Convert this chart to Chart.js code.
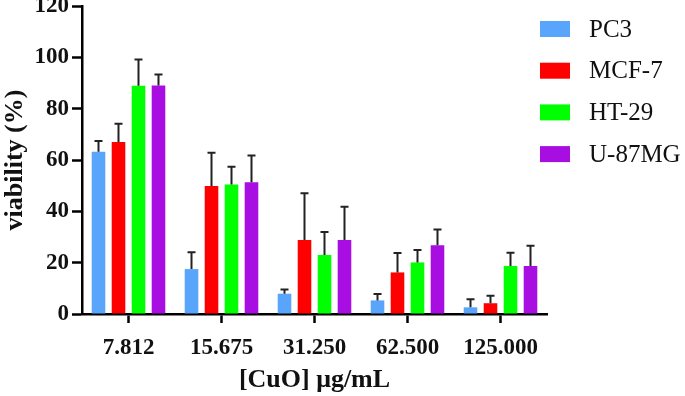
<!DOCTYPE html>
<html>
<head>
<meta charset="utf-8">
<script src="https://cdn.jsdelivr.net/npm/chart.js@4"></script>
<style>
html,body{margin:0;padding:0;background:#fff;}
#wrap{width:685px;height:396px;position:relative;}
</style>
</head>
<body>
<div id="wrap"><canvas id="c" width="685" height="396"></canvas></div>
<script>
const categories = ["7.812", "15.675", "31.250", "62.500", "125.000"];
const seriesNames = ["PC3", "MCF-7", "HT-29", "U-87MG"];
const pc3 = [63.2, 17.5, 7.9, 5.3, 2.6];
const mcf7 = [67.0, 49.9, 28.8, 16.2, 4.2];
const ht29 = [88.9, 50.5, 23.0, 20.1, 18.7];
const u87mg = [89.0, 51.3, 28.8, 26.8, 18.7];
const pc3Err = [4.2, 6.6, 1.6, 2.5, 3.1];
const mcf7Err = [7.1, 12.9, 18.2, 7.6, 2.9];
const ht29Err = [10.3, 6.9, 8.9, 4.8, 5.2];
const u87mgErr = [4.3, 10.5, 13.0, 6.1, 7.9];
const yTicks = [0, 20, 40, 60, 80, 100, 120];
const colors = ["#5AA5FC", "#FF0000", "#00FF00", "#A80DE2"];

const values = [pc3, mcf7, ht29, u87mg];
const errors = [pc3Err, mcf7Err, ht29Err, u87mgErr];

const errorBarPlugin = {
  id: 'errorBars',
  afterDatasetsDraw(chart) {
    const ctx = chart.ctx;
    const y = chart.scales.y;
    ctx.save();
    ctx.strokeStyle = '#222';
    ctx.lineWidth = 2;
    chart.data.datasets.forEach((ds, di) => {
      const meta = chart.getDatasetMeta(di);
      meta.data.forEach((bar, i) => {
        const v = ds.data[i];
        const e = ds.errors[i];
        const yTop = y.getPixelForValue(v + e);
        const yBase = y.getPixelForValue(v);
        ctx.beginPath();
        ctx.moveTo(bar.x, yBase);
        ctx.lineTo(bar.x, yTop);
        ctx.moveTo(bar.x - 4, yTop);
        ctx.lineTo(bar.x + 4, yTop);
        ctx.stroke();
      });
    });
    ctx.restore();
  }
};

const legendPlugin = {
  id: 'customLegend',
  afterDraw(chart) {
    const ctx = chart.ctx;
    ctx.save();
    ctx.font = '25px "Liberation Serif", "Times New Roman", serif';
    ctx.textBaseline = 'middle';
    ctx.textAlign = 'left';
    chart.data.datasets.forEach((ds, i) => {
      const cy = 29 + i * 41.7;
      ctx.fillStyle = ds.backgroundColor;
      ctx.fillRect(540, cy - 8, 30, 16);
      ctx.fillStyle = '#111';
      ctx.fillText(ds.label, 589, cy + 1);
    });
    ctx.restore();
  }
};

const datasets = seriesNames.map((name, i) => ({
  label: name,
  data: values[i],
  errors: errors[i],
  backgroundColor: colors[i],
  borderWidth: 0,
  barPercentage: 0.68,
  categoryPercentage: 0.86
}));

const tickFont = {family: '"Liberation Serif", "Times New Roman", serif', size: 23, weight: 'bold'};
const titleFont = {family: '"Liberation Serif", "Times New Roman", serif', size: 26, weight: 'bold'};

new Chart(document.getElementById('c'), {
  type: 'bar',
  data: {labels: categories, datasets},
  options: {
    responsive: false,
    animation: false,
    devicePixelRatio: 1,
    layout: {padding: {top: 6, right: 138, left: 0, bottom: 0}},
    plugins: {legend: {display: false}, tooltip: {enabled: false}},
    scales: {
      x: {
        offset: true,
        grid: {display: true, drawOnChartArea: false, drawTicks: true, tickLength: 9, tickWidth: 2.5, tickColor: '#000', offset: false},
        border: {display: true, color: '#000', width: 2.5},
        ticks: {color: '#111', font: tickFont, padding: 11, maxRotation: 0, autoSkip: false},
        title: {display: true, text: '[CuO] μg/mL', color: '#111', font: titleFont, padding: {top: 0, bottom: 0}},
        afterFit(scale) { scale.height = 82; scale.paddingLeft = 0; scale.paddingRight = 0; }
      },
      y: {
        min: 0, max: 120,
        afterBuildTicks(scale) { scale.ticks = yTicks.map(v => ({value: v})); },
        grid: {display: true, drawOnChartArea: false, drawTicks: true, tickLength: 10, tickWidth: 2.5, tickColor: '#000'},
        border: {display: true, color: '#000', width: 2.5},
        ticks: {color: '#111', font: tickFont, padding: 3},
        title: {display: true, text: 'viability (%)', color: '#111', font: titleFont, padding: {top: 0, bottom: 0}},
        afterFit(scale) { scale.width = 82; scale.paddingTop = 0; scale.paddingBottom = 0; }
      }
    }
  },
  plugins: [errorBarPlugin, legendPlugin]
});
</script>
</body>
</html>
